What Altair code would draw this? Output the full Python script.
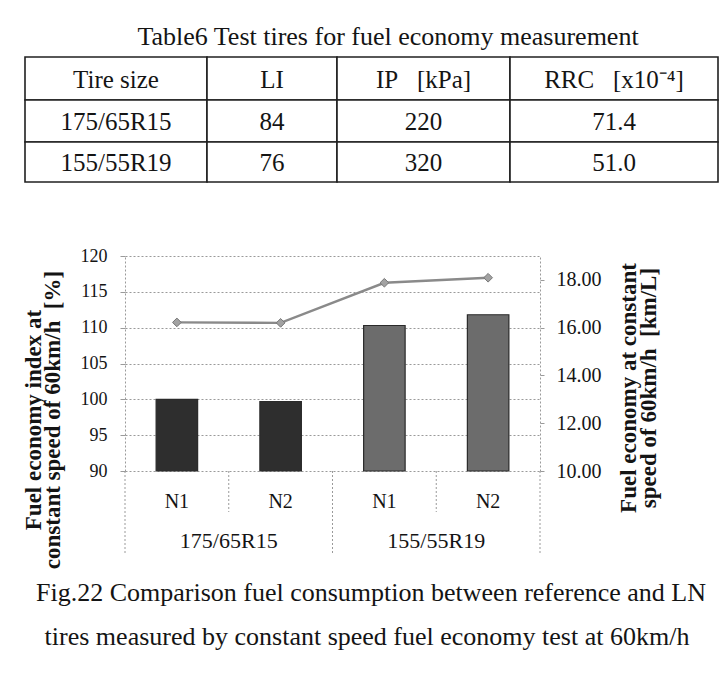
import altair as alt
import pandas as pd

# ---------------- data ----------------
TABLE_TITLE = "Table6 Test tires for fuel economy measurement"
TABLE_HEADER = ["Tire size", "LI", "IP\u00a0\u00a0\u00a0[kPa]", "RRC\u00a0\u00a0\u00a0[x10\u207b\u2074]"]
TIRE_SIZES = ["175/65R15", "155/55R19"]
LOAD_INDEX = ["84", "76"]
INFLATION_KPA = ["220", "320"]
RRC = ["71.4", "51.0"]

GROUPS = ["175/65R15", "175/65R15", "155/55R19", "155/55R19"]
TIRES = ["N1", "N2", "N1", "N2"]
FE_INDEX = [100.0, 99.7, 110.3, 111.8]      # left axis, bars [%]
FE_KML = [16.22, 16.20, 17.88, 18.09]       # right axis, line [km/L]

LEFT_TICKS = [90, 95, 100, 105, 110, 115, 120]
RIGHT_TICKS = [10, 12, 14, 16, 18]

Y_LEFT_TITLE = ["Fuel economy index at", "constant speed of 60km/h\u00a0\u00a0[%]"]
Y_RIGHT_TITLE = ["Fuel economy at constant", "speed of 60km/h\u00a0\u00a0[km/L]"]
CAPTION = ["Fig.22 Comparison fuel consumption between reference and LN",
           "tires measured by constant speed fuel economy test at 60km/h"]

# ---------------- layout ----------------
SERIF = "Liberation Serif"
INK = "#141414"
GRID = "#9a9a9a"
PLOT_X0, PLOT_Y0 = 125, 256      # plot origin on the page
W, H = 415, 215


def vx(px):
    return px - PLOT_X0


def vy(py):
    return py - PLOT_Y0


TABLE_COLS = [25, 207, 337, 510, 718]
TABLE_ROWS = [57, 100, 142, 182]

# ---------------- frames ----------------
group_order = list(dict.fromkeys(GROUPS))
KEYS = [f"{g}|{t}" for g, t in zip(GROUPS, TIRES)]
df = pd.DataFrame({"key": KEYS, "group": GROUPS, "tire": TIRES,
                   "index": FE_INDEX, "kml": FE_KML})

X_SCALE = alt.Scale(type="band", domain=KEYS, paddingInner=0, paddingOuter=0)
G_SCALE = alt.Scale(type="band", domain=group_order, paddingInner=0, paddingOuter=0)

# table frames
rows = [TABLE_HEADER] + [[TIRE_SIZES[i], LOAD_INDEX[i], INFLATION_KPA[i], RRC[i]]
                         for i in range(len(TIRE_SIZES))]
cell_text, cell_rect = [], []
for r, row in enumerate(rows):
    for c, txt in enumerate(row):
        x0, x1 = TABLE_COLS[c], TABLE_COLS[c + 1]
        y0, y1 = TABLE_ROWS[r], TABLE_ROWS[r + 1]
        cell_text.append({"text": txt, "px": vx((x0 + x1) / 2), "py": vy((y0 + y1) / 2 + 1)})
        cell_rect.append({"x": vx(x0), "x2": vx(x1), "y": vy(y0), "y2": vy(y1)})
cell_text = pd.DataFrame(cell_text)
cell_rect = pd.DataFrame(cell_rect)

table_rect = alt.Chart(cell_rect).mark_rect(fill="white", stroke="#202020", strokeWidth=1.6).encode(
    x=alt.X("x:Q", scale=None), x2="x2", y=alt.Y("y:Q", scale=None), y2="y2")


def label_layer(texts, xs, ys, size, weight="normal", angle=0):
    d = pd.DataFrame({"text": texts, "px": [vx(x) for x in xs], "py": [vy(y) for y in ys]})
    return alt.Chart(d).mark_text(font=SERIF, fontSize=size, fontWeight=weight, angle=angle,
                                  align="center", baseline="middle", color=INK).encode(
        x=alt.X("px:Q", scale=None), y=alt.Y("py:Q", scale=None), text="text:N")


table_text = alt.Chart(cell_text).mark_text(font=SERIF, fontSize=25, align="center",
                                            baseline="middle", color=INK).encode(
    x=alt.X("px:Q", scale=None), y=alt.Y("py:Q", scale=None), text="text:N")

table_title = label_layer([TABLE_TITLE], [388], [37], 26)
caption = label_layer(CAPTION, [371, 367], [593, 637], 26)
left_title = label_layer(Y_LEFT_TITLE, [34, 53], [420, 420], 23, weight="bold", angle=270)
right_title = label_layer(Y_RIGHT_TITLE, [629, 649], [388, 388], 23, weight="bold", angle=270)

# ---------------- chart ----------------
bars = alt.Chart(df).mark_bar(width={"band": 0.4}, stroke="#2a2a2a", strokeWidth=1.2).encode(
    x=alt.X("key:N", scale=X_SCALE, sort=KEYS, title=None,
            axis=alt.Axis(labelExpr="split(datum.value, '|')[1]", ticks=False, domain=False,
                          grid=False, labelAngle=0, labelFont=SERIF, labelFontSize=20,
                          labelColor=INK, labelBaseline="middle", labelPadding=30)),
    y=alt.Y("index:Q", scale=alt.Scale(domain=[90, 120], zero=False, nice=False), title=None,
            axis=alt.Axis(values=LEFT_TICKS, grid=True, gridDash=[2, 2], gridColor=GRID,
                          gridWidth=1, domainDash=[2, 2], domainColor=GRID, tickColor=GRID,
                          tickSize=5, labelPadding=13, labelFont=SERIF, labelFontSize=18,
                          labelColor=INK)),
    y2=alt.datum(90),
    color=alt.Color("group:N", scale=alt.Scale(domain=group_order, range=["#2e2e2e", "#6c6c6c"]),
                    legend=None),
)

line = alt.Chart(df).mark_line(color="#8a8a8a", strokeWidth=2.4,
                               point=alt.OverlayMarkDef(shape="diamond", filled=True, size=75,
                                                        fill="#a2a2a2", stroke="#767676",
                                                        strokeWidth=1)).encode(
    x=alt.X("key:N", scale=X_SCALE, sort=KEYS, axis=None),
    y=alt.Y("kml:Q", scale=alt.Scale(domain=[10, 19], zero=False, nice=False), title=None,
            axis=alt.Axis(orient="right", values=RIGHT_TICKS, format=".2f", grid=False,
                          domainDash=[2, 2], domainColor=GRID, tickColor=GRID, tickSize=4,
                          labelPadding=12, labelFont=SERIF, labelFontSize=20, labelColor=INK)),
)

inner_sep = alt.Chart(df[df["tire"] == "N2"]).mark_rule(strokeDash=[2, 2], color=GRID).encode(
    x=alt.X("key:N", scale=X_SCALE, sort=KEYS, axis=None, bandPosition=0),
    y=alt.value(H), y2=alt.value(H + 41))

gdf = pd.DataFrame({"group": group_order})
group_sep_left = alt.Chart(gdf).mark_rule(strokeDash=[2, 2], color=GRID).encode(
    x=alt.X("group:N", scale=G_SCALE, axis=None, bandPosition=0),
    y=alt.value(H), y2=alt.value(H + 82))
group_sep_right = alt.Chart(gdf.tail(1)).mark_rule(strokeDash=[2, 2], color=GRID).encode(
    x=alt.X("group:N", scale=G_SCALE, axis=None, bandPosition=1),
    y=alt.value(H), y2=alt.value(H + 82))
group_labels = alt.Chart(gdf).mark_text(font=SERIF, fontSize=22, baseline="middle",
                                        color=INK).encode(
    x=alt.X("group:N", scale=G_SCALE, axis=None),
    y=alt.value(vy(541)), text="group:N")

chart = alt.layer(
    table_rect, table_text, table_title,
    bars, line, inner_sep, group_sep_left, group_sep_right, group_labels,
    left_title, right_title, caption,
).resolve_scale(x="independent", y="independent").properties(
    width=W, height=H,
    padding={"left": PLOT_X0 - 8, "top": PLOT_Y0 - 8, "right": 712 - (PLOT_X0 - 8) - W,
             "bottom": 180},
    autosize=alt.AutoSizeParams(type="none"),
    background="white",
).configure_view(stroke=None)

chart.save("out.html", embed_options={"renderer": "svg", "actions": False})
